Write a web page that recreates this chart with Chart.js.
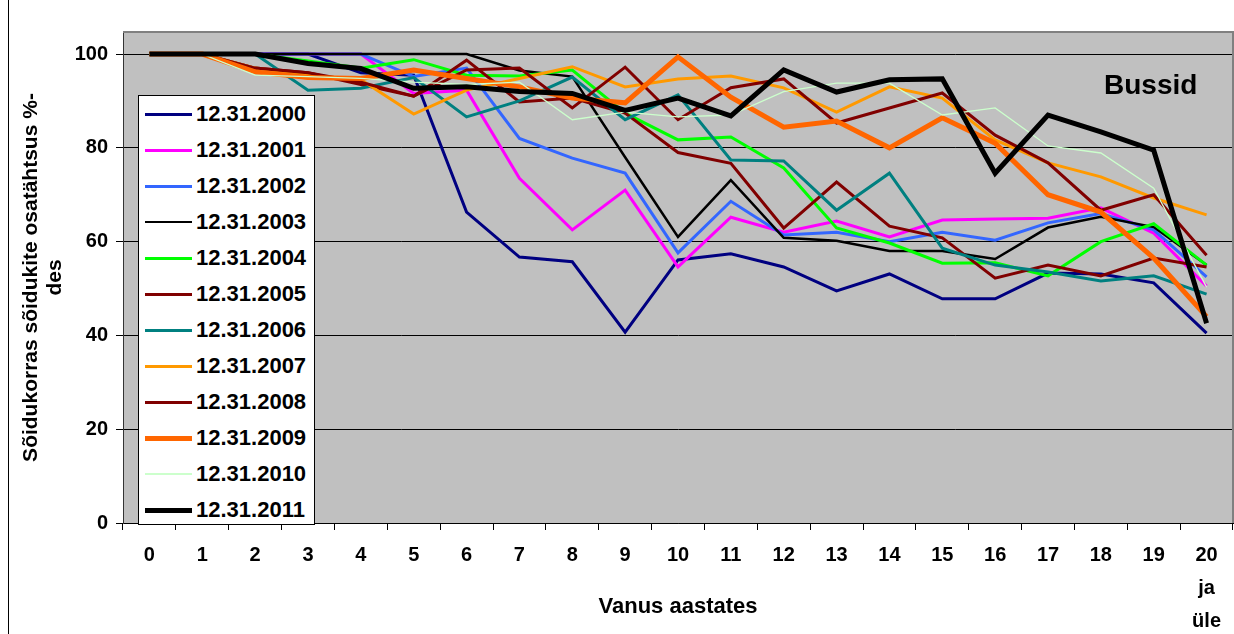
<!DOCTYPE html>
<html>
<head>
<meta charset="utf-8">
<script src="https://cdn.jsdelivr.net/npm/chart.js@4.4.1/dist/chart.umd.min.js"></script>
<style>
  body { margin: 0; background: #fff; }
  #wrap { position: relative; width: 1234px; height: 634px; overflow: hidden; }
  #frame { position: absolute; left: 8px; top: -4px; width: 1400px; height: 700px; border: 1px solid #000; }
  #legend {
    position: absolute; left: 138px; top: 95px; width: 177px; height: 430px;
    box-sizing: border-box; border: 1px solid #000; background: #fff;
    font-family: "Liberation Sans", Arial, sans-serif; font-weight: bold; font-size: 22px; color: #000;
  }
  .row { display: flex; align-items: center; height: 36px; }
  .swatch { width: 47px; margin-left: 6px; margin-right: 4px; }
  #bussid {
    position: absolute; left: 1104px; top: 69px;
    font-family: "Liberation Sans", Arial, sans-serif; font-weight: bold; font-size: 28px; color: #000;
  }
</style>
</head>
<body>
<div id="wrap">
  <canvas id="tracker-graph" width="1234" height="634"></canvas>
  <div id="frame"></div>
  <div id="legend"></div>
  <div id="bussid">Bussid</div>
</div>
<script>
var categories = ["0", "1", "2", "3", "4", "5", "6", "7", "8", "9", "10", "11", "12", "13", "14", "15", "16", "17", "18", "19", ["20", "ja", "üle"]];
var yTicks = [0, 20, 40, 60, 80, 100];

var seriesNames = ["12.31.2000", "12.31.2001", "12.31.2002", "12.31.2003", "12.31.2004", "12.31.2005",
  "12.31.2006", "12.31.2007", "12.31.2008", "12.31.2009", "12.31.2010", "12.31.2011"];

var s2000 = [100, 100, 100, 100, 96, 95.5, 66.3, 56.7, 55.7, 40.7, 56.1, 57.4, 54.6, 49.5, 53.1, 47.8, 47.8, 53.3, 53.1, 51.2, 40.5];
var s2001 = [100, 100, 100, 100, 100, 91.6, 92.3, 73.5, 62.5, 71, 54.6, 65.2, 62, 64.4, 61, 64.6, 64.8, 65, 67.2, 61.8, 50.5];
var s2002 = [100, 100, 100, 100, 100, 95.2, 97, 82, 77.8, 74.6, 57.6, 68.6, 61.4, 62, 60, 62, 60.3, 64, 66, 62.5, 52.5];
var s2003 = [100, 100, 100, 100, 100, 100, 100, 96.5, 95.2, 78, 61, 73.1, 60.8, 60.2, 58, 58, 56.3, 63, 65.3, 63.1, 55];
var s2004 = [100, 100, 100, 98.5, 97, 98.8, 95.5, 95.3, 96.6, 87.4, 81.7, 82.3, 75.7, 62.9, 59.7, 55.4, 55.5, 52.7, 60, 63.8, 55];
var s2005 = [100, 100, 97, 96, 93.5, 91, 98.7, 89.8, 90.6, 87.4, 79, 76.7, 62.9, 72.7, 63.3, 60.8, 52.2, 55, 52.7, 56.5, 54.6];
var s2006 = [100, 100, 100, 92.3, 92.7, 95, 86.6, 90, 95.1, 86, 91.3, 77.4, 77.2, 66.7, 74.6, 58.6, 55, 53.5, 51.6, 52.7, 48.8];
var s2007 = [100, 100, 97, 95.5, 94.5, 87.2, 92.3, 94.8, 97.3, 93, 94.7, 95.3, 92.8, 87.6, 93, 90.6, 81.7, 76.8, 73.8, 69.3, 65.7];
var s2008 = [100, 100, 97, 96, 94, 91, 96.6, 97, 88.5, 97.2, 86, 92.8, 94.7, 85.3, 88.5, 91.7, 82.7, 76.8, 66.7, 70, 57.1];
var s2009 = [100, 100, 96.2, 95, 94.8, 96.6, 94.8, 93, 90.6, 89.6, 99.4, 90.8, 84.4, 85.7, 80, 86.4, 81, 70, 66.3, 56.5, 44];
var s2010 = [100, 100, 95.5, 95.2, 94.8, 94, 93.5, 94, 86, 87.6, 86.6, 87, 92, 93.8, 93.8, 87, 88.5, 80.4, 78.9, 71.4, 50.3];
var s2011 = [100, 100, 100, 98, 96.9, 92.7, 93, 92, 91.6, 88, 90.6, 86.8, 96.6, 91.9, 94.5, 94.7, 74.6, 87, 83.4, 79.5, 42.6];

var seriesValues = [s2000, s2001, s2002, s2003, s2004, s2005, s2006, s2007, s2008, s2009, s2010, s2011];
var seriesColors = ["#000080", "#FF00FF", "#3366FF", "#000000", "#00FF00", "#800000",
  "#008080", "#FF9900", "#800000", "#FF6600", "#CCFFCC", "#000000"];
var seriesWidths = [3, 3, 3, 2.5, 3, 3, 3, 3, 3, 5, 1.3, 5];

var FONT = "'Liberation Sans', Arial, sans-serif";

var datasets = seriesValues.map(function (vals, i) {
  return {
    label: seriesNames[i],
    data: vals,
    borderColor: seriesColors[i],
    backgroundColor: seriesColors[i],
    borderWidth: seriesWidths[i],
    pointRadius: 0,
    tension: 0,
    fill: false,
    order: seriesValues.length - i,
  };
});

// legend box inside the plot
var legendHtml = "";
seriesNames.forEach(function (name, i) {
  legendHtml += '<div class="row"><span class="swatch" style="height:' + Math.max(seriesWidths[i], 2) +
    'px;background:' + seriesColors[i] + '"></span>' + name + "</div>";
});
document.getElementById("legend").innerHTML = legendHtml;

// grey plot area and its border
var plotArea = {
  id: "plotArea",
  beforeDraw: function (chart) {
    var a = chart.chartArea, ctx = chart.ctx;
    ctx.save();
    ctx.fillStyle = "#C0C0C0";
    ctx.fillRect(a.left, a.top, a.right - a.left, a.bottom - a.top);
    ctx.restore();
  },
  afterDraw: function (chart) {
    var a = chart.chartArea, ctx = chart.ctx;
    ctx.save();
    ctx.strokeStyle = "#808080";
    ctx.lineWidth = 2;
    ctx.beginPath();
    ctx.moveTo(a.left, a.top);
    ctx.lineTo(a.right, a.top);
    ctx.lineTo(a.right, a.bottom);
    ctx.stroke();
    ctx.restore();
  },
};

new Chart(document.getElementById("tracker-graph"), {
  type: "line",
  data: { labels: categories, datasets: datasets },
  plugins: [plotArea],
  options: {
    responsive: false,
    animation: false,
    layout: { padding: { top: 32, right: 1, bottom: 0, left: 0 } },
    plugins: {
      legend: { display: false },
      tooltip: { enabled: false },
    },
    scales: {
      x: {
        offset: true,
        afterFit: function (scale) { scale.height = 111; },
        grid: {
          offset: true,
          drawOnChartArea: false,
          drawTicks: true,
          tickLength: 7,
          color: "#000",
        },
        border: { display: true, color: "#000", width: 1 },
        ticks: {
          autoSkip: false,
          maxRotation: 0,
          minRotation: 0,
          padding: 9,
          color: "#000",
          font: { family: FONT, size: 20, weight: "bold", lineHeight: 1.64 },
        },
        title: {
          display: true,
          text: "Vanus aastates",
          color: "#000",
          padding: { top: 0, bottom: 14 },
          font: { family: FONT, size: 22, weight: "bold", lineHeight: 1.2 },
        },
      },
      y: {
        min: 0,
        max: 104.7,
        afterFit: function (scale) { scale.width = 123; },
        afterBuildTicks: function (scale) {
          scale.ticks = yTicks.map(function (v) { return { value: v }; });
        },
        grid: {
          color: "#000",
          lineWidth: 1,
          drawTicks: true,
          tickLength: 7,
        },
        border: { display: true, color: "#333", width: 1 },
        ticks: {
          padding: 8,
          color: "#000",
          font: { family: FONT, size: 20, weight: "bold" },
        },
        title: {
          display: true,
          text: ["Sõidukorras sõidukite osatähtsus %-", "des"],
          color: "#000",
          padding: { top: 19, bottom: 0 },
          font: { family: FONT, size: 21, weight: "bold", lineHeight: 1.15 },
        },
      },
    },
  },
});
</script>
</body>
</html>
